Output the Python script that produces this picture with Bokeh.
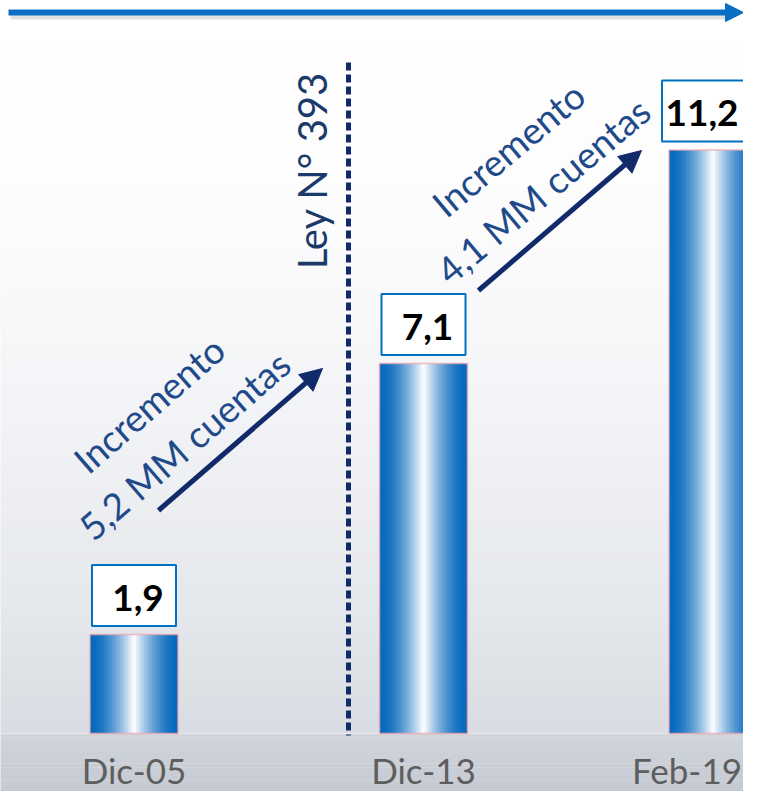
import math
import numpy as np
from bokeh.plotting import figure
from bokeh.models import Range1d, Arrow, NormalHead, ColumnDataSource
from bokeh.core.properties import value
from bokeh.embed import file_html
from bokeh.resources import INLINE

# ---------------- data ----------------
categories = ["Dic-05", "Dic-13", "Feb-19"]
cuentas = [1.9, 7.1, 11.2]                      # millones de cuentas
value_labels = ["1,9", "7,1", "11,2"]
increment_labels = ["Incremento\n5,2 MM cuentas", "Incremento\n4,1 MM cuentas"]
law_label = "Ley N° 393"

# ---------------- geometry helpers (figure pixels -> data) ----------------
W, H = 743, 791
PX_PER_UNIT = 52.1
BASE_PY = 733.0
X0_PX = 133.5
STEP_PX = 289.5


def X(px):
    return (px - X0_PX) / STEP_PX


def Y(py):
    return (BASE_PY - py) / PX_PER_UNIT


FONT = value("Lato")
NAVY = "#102A6A"
TEXT_BLUE = "#1F4A8A"
BLUE = "#0A6FC2"

p = figure(width=W, height=H,
           x_range=Range1d(X(0), X(W)), y_range=Range1d(Y(H), Y(0)),
           x_axis_type=None, y_axis_type=None,
           output_backend="svg", toolbar_location=None, min_border=0)
p.grid.visible = False
p.outline_line_color = None
p.background_fill_color = "white"
p.border_fill_color = "white"

# ---------------- background gradient ----------------
def bands(py0, py1, stops, n):
    ys = np.linspace(py0, py1, n + 1)
    sp = [s[0] for s in stops]
    cols = []
    for a, b in zip(ys[:-1], ys[1:]):
        m = (a + b) / 2
        rgb = [int(round(np.interp(m, sp, [s[1][c] for s in stops]))) for c in range(3)]
        cols.append("#%02x%02x%02x" % tuple(rgb))
    return ys, cols

ys, cols = bands(0, BASE_PY, [(0, (255, 255, 255)), (220, (252, 252, 253)),
                              (420, (242, 243, 246)), (600, (229, 232, 236)),
                              (733, (217, 221, 227))], 70)
p.quad(left=X(-5), right=X(W + 5), top=[Y(a) + 0.01 for a in ys[:-1]],
       bottom=[Y(b) for b in ys[1:]], fill_color=cols, line_color=None)
ys2, cols2 = bands(BASE_PY, H + 2, [(733, (208, 212, 219)), (H + 2, (197, 202, 210))], 14)
p.quad(left=X(-5), right=X(W + 5), top=[Y(a) + 0.005 for a in ys2[:-1]],
       bottom=[Y(b) for b in ys2[1:]], fill_color=cols2, line_color=None)
p.segment(x0=[X(-5)], y0=[0], x1=[X(W + 5)], y1=[0], line_color="#EFE6E8", line_width=1)

# ---------------- bars with cylinder gradient ----------------
BAR_W = 88 / STEP_PX
N = 44
OVER = 1.0 / STEP_PX
dark = np.array([8, 106, 190])
white = np.array([255, 255, 255])
L, R, T, B, C = [], [], [], [], []
for i, v in enumerate(cuentas):
    for k in range(N):
        u = (k + 0.5) / N
        t = abs(u - 0.5) * 2
        w = max(0.0, 1 - t / 0.95) ** 1.6
        rgb = (dark * (1 - w) + white * w).round().astype(int)
        L.append(i - BAR_W / 2 + k * BAR_W / N)
        R.append(min(i + BAR_W / 2, i - BAR_W / 2 + (k + 1) * BAR_W / N + OVER))
        T.append(v)
        B.append(0)
        C.append("#%02x%02x%02x" % tuple(rgb))
p.quad(left=L, right=R, top=T, bottom=B, fill_color=C, line_color=None)
idx = list(range(len(categories)))
p.quad(left=[i - BAR_W / 2 for i in idx], right=[i + BAR_W / 2 for i in idx],
       top=cuentas, bottom=[0] * len(idx), fill_color=None,
       line_color="#F0A8B0", line_width=1.5, line_alpha=0.8)

# ---------------- value boxes ----------------
box_src = ColumnDataSource(dict(
    x=idx,
    y=[v + 39 / PX_PER_UNIT for v in cuentas],
    w=[30 + 18 * len(s) for s in value_labels],
    dx=[4, 4, -11],
    text=value_labels,
))
p.rect(x="x", y="y", width="w", height=61, width_units="screen", height_units="screen",
       fill_color="white", line_color="#0070C0", line_width=2, source=box_src)
p.text(x="x", y="y", text="text", x_offset="dx", y_offset=2, text_align="center",
       text_baseline="middle", text_font=FONT, text_font_style="bold",
       text_font_size="37px", text_color="black", source=box_src)

# ---------------- category labels ----------------
cat_src = ColumnDataSource(dict(
    x=idx,
    y=[Y(769)] * len(idx),
    dx=[0, 0, -26],
    text=categories,
))
p.text(x="x", y="y", text="text", x_offset="dx", text_align="center",
       text_baseline="middle", text_font=FONT,
       text_font_size="35px", text_color="#5E5E5E", source=cat_src)

# ---------------- law marker ----------------
p.segment(x0=[X(348)], y0=[Y(62)], x1=[X(348)], y1=[Y(735)],
          line_color=NAVY, line_width=5, line_dash="8 4")
p.text(x=[X(311)], y=[Y(170)], text=[law_label], angle=math.pi / 2,
       text_align="center", text_baseline="middle", text_font=FONT,
       text_font_size="40px", text_color="#1B3A6B")

# ---------------- increment arrows ----------------
for (xs, ys_, xe, ye) in [(158, 510, 322, 368), (478, 290, 641, 150)]:
    p.add_layout(Arrow(end=NormalHead(size=22, fill_color=NAVY, line_color=NAVY),
                       x_start=X(xs), y_start=Y(ys_), x_end=X(xe), y_end=Y(ye),
                       line_color=NAVY, line_width=5))

p.text(x=[X(166), X(525)], y=[Y(424), Y(169)], text=increment_labels,
       angle=[math.radians(41), math.radians(40)], text_align="center",
       text_baseline="middle", text_font=FONT, text_font_size="37px",
       text_color=TEXT_BLUE, text_line_height=1.2)

# ---------------- top timeline arrow ----------------
p.segment(x0=[X(10)], y0=[Y(16)], x1=[X(730)], y1=[Y(16)],
          line_color="#888888", line_alpha=0.25, line_width=6)
p.add_layout(Arrow(end=NormalHead(size=18, fill_color=BLUE, line_color=BLUE),
                   x_start=X(8), y_start=Y(12), x_end=X(W), y_end=Y(12),
                   line_color=BLUE, line_width=6))

open("out.html", "w").write(file_html(p, INLINE))
